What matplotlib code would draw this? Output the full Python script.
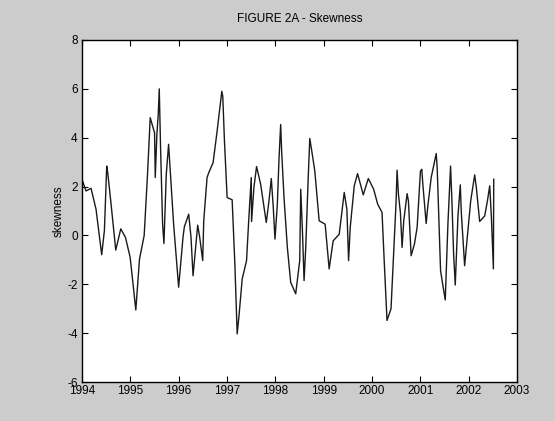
import matplotlib
matplotlib.use("Agg")
import matplotlib.pyplot as plt

# Monthly-ish skewness observations (decimal year, value)
dates = [
    1994.000, 1994.083, 1994.187, 1994.291, 1994.408, 1994.464, 1994.512, 1994.533,
    1994.602, 1994.699, 1994.803, 1994.900, 1994.997, 1995.114, 1995.190, 1995.287,
    1995.356, 1995.412, 1995.502, 1995.516, 1995.550, 1995.578, 1995.599, 1995.626,
    1995.668, 1995.696, 1995.744, 1995.792, 1995.827, 1995.896, 1996.000, 1996.090,
    1996.118, 1996.208, 1996.256, 1996.298, 1996.346, 1996.394, 1996.436, 1996.498,
    1996.519, 1996.588, 1996.623, 1996.713, 1996.796, 1996.893, 1996.913, 1996.948,
    1997.003, 1997.107, 1997.163, 1997.211, 1997.246, 1997.315, 1997.405, 1997.453,
    1997.502, 1997.509, 1997.557, 1997.612, 1997.696, 1997.813, 1997.869, 1997.917,
    1997.958, 1997.993, 1998.042, 1998.076, 1998.111, 1998.131, 1998.180, 1998.249,
    1998.318, 1998.422, 1998.505, 1998.526, 1998.561, 1998.595, 1998.630, 1998.678,
    1998.713, 1998.754, 1998.817, 1998.907, 1999.031, 1999.114, 1999.197, 1999.322,
    1999.426, 1999.481, 1999.516, 1999.550, 1999.633, 1999.702, 1999.820, 1999.924,
    2000.035, 2000.118, 2000.208, 2000.256, 2000.311, 2000.394, 2000.450, 2000.498,
    2000.519, 2000.547, 2000.588, 2000.623, 2000.657, 2000.727, 2000.754, 2000.810,
    2000.879, 2000.934, 2001.003, 2001.031, 2001.052, 2001.121, 2001.156, 2001.225,
    2001.329, 2001.349, 2001.419, 2001.467, 2001.516, 2001.571, 2001.626, 2001.654,
    2001.689, 2001.723, 2001.779, 2001.827, 2001.848, 2001.917, 2001.972, 2002.042,
    2002.125, 2002.159, 2002.228, 2002.332, 2002.388, 2002.436, 2002.471, 2002.512,
    2002.519,
]
skewness = [
    2.30, 1.82, 1.93, 1.07, -0.79, 0.20, 2.84, 2.57,
    1.28, -0.60, 0.27, -0.08, -0.90, -3.05, -0.97, 0.00,
    2.50, 4.82, 4.20, 2.37, 4.14, 4.95, 6.00, 3.60,
    0.46, -0.33, 2.50, 3.73, 2.64, 0.46, -2.12, -0.08,
    0.35, 0.87, -0.08, -1.65, -0.63, 0.42, -0.08, -1.03,
    0.60, 2.37, 2.57, 2.98, 4.27, 5.90, 5.70, 3.86,
    1.55, 1.46, -1.17, -4.03, -3.35, -1.78, -1.03, 0.73,
    2.37, 0.57, 1.96, 2.82, 2.10, 0.53, 1.41, 2.33,
    1.14, -0.15, 1.28, 3.12, 4.54, 3.46, 1.55, -0.49,
    -1.92, -2.39, -1.03, 1.89, 0.19, -1.85, -0.49, 2.23,
    3.97, 3.46, 2.64, 0.60, 0.46, -1.37, -0.22, 0.05,
    1.76, 1.07, -1.03, 0.33, 2.03, 2.53, 1.66, 2.33,
    1.89, 1.28, 0.94, -1.17, -3.48, -3.00, -0.63, 1.35,
    2.67, 1.69, 0.94, -0.49, 0.60, 1.71, 1.41, -0.83,
    -0.35, 0.33, 2.64, 2.71, 2.10, 0.49, 1.21, 2.37,
    3.35, 2.77, -1.44, -2.05, -2.64, 0.46, 2.84, 1.41,
    -0.76, -2.03, 0.80, 2.07, 0.94, -1.24, -0.08, 1.41,
    2.48, 1.96, 0.57, 0.80, 1.41, 2.03, 0.73, -1.37,
    2.30,
]

x_ticks = list(range(1994, 2004))
y_ticks = list(range(-6, 9, 2))

plt.rcParams["font.family"] = ["Liberation Sans", "DejaVu Sans"]

fig = plt.figure(figsize=(5.55, 4.21), dpi=100, facecolor="#cccccc")
ax = fig.add_axes([0.1477, 0.0926, 0.7838, 0.8124])
ax.set_facecolor("white")

ax.plot(dates, skewness, color="#1a1a1a", linewidth=1.0)

ax.set_xlim(1994, 2003)
ax.set_ylim(-6, 8)
ax.set_xticks(x_ticks)
ax.set_xticklabels([str(t) for t in x_ticks])
ax.set_yticks(y_ticks)
ax.set_yticklabels([str(t) for t in y_ticks])

ax.tick_params(direction="in", length=4, width=0.8, top=True, right=True,
               labelsize=8.5, pad=2, colors="black")
ax.tick_params(axis="y", pad=3)
for s in ax.spines.values():
    s.set_linewidth(1.0)
    s.set_color("black")

ax.set_title("FIGURE 2A - Skewness", fontsize=8.5, pad=13)
ax.set_ylabel("skewness", fontsize=8.5, labelpad=2)

fig.savefig("out.png", dpi=100, facecolor=fig.get_facecolor())
